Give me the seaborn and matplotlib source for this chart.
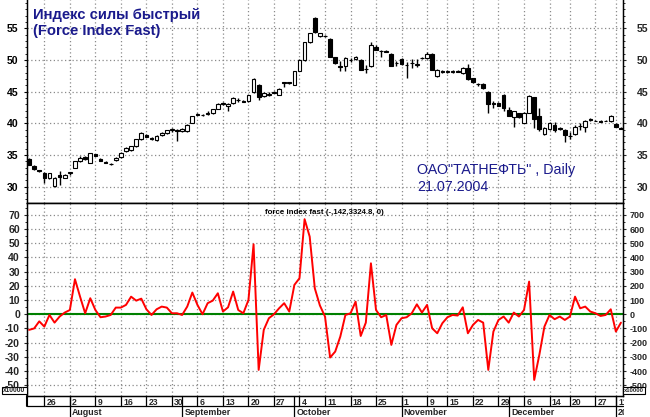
import matplotlib
matplotlib.use("Agg")
import matplotlib.pyplot as plt
import matplotlib.transforms as mtransforms
from matplotlib.patches import Rectangle
from matplotlib.ticker import MultipleLocator
import numpy as np
import pandas as pd
import seaborn as sns

# ---------------- data ----------------
opens = [34.3, 33.3, 32.6, 32.2, 31.4, 30.1, 31.8, 31.4, 32.1, 33.0,
         34.0, 34.7, 33.8, 35.1, 34.4, 33.85, 33.65, 34.2, 34.7, 35.6,
         35.8, 36.4, 37.5, 38.2, 37.7, 37.3, 38.1, 38.4, 38.95, 38.95,
         38.8, 38.8, 40.1, 41.45, 41.35, 41.55, 41.6, 42.3, 43.2, 42.7,
         43.2, 43.65, 43.55, 43.5, 44.9, 46.1, 44.3, 44.55, 44.95, 44.5,
         46.45, 46.35, 46.1, 48.3, 50.0, 52.8, 56.7, 53.8, 53.85, 53.3,
         50.4, 49.05, 49.0, 49.95, 50.1, 50.0, 48.65, 49.0, 52.0, 51.45,
         51.35, 51.0, 49.45, 50.2, 49.15, 49.45, 49.25, 50.35, 50.3, 51.0,
         47.4, 48.25, 48.15, 48.15, 48.25, 47.9, 48.8, 47.1, 46.25, 46.2,
         45.0, 43.15, 43.2, 44.5, 42.1, 41.0, 41.6, 40.1, 41.7, 44.1,
         41.2, 38.3, 39.1, 39.7, 39.25, 39.0, 37.95, 38.3, 39.55, 39.4,
         40.7, 40.45, 40.35, 40.45, 40.3, 39.9, 39.25]
highs = [34.6, 33.4, 32.7, 32.3, 32.2, 31.5, 32.5, 32.0, 32.4, 34.1,
         34.8, 34.9, 35.4, 35.2, 34.5, 34.0, 33.8, 34.7, 35.5, 36.2,
         36.5, 37.6, 38.6, 38.3, 37.8, 38.1, 38.6, 39.0, 39.3, 39.1,
         39.3, 39.9, 41.2, 41.6, 41.5, 41.9, 42.3, 43.2, 43.3, 43.2,
         44.1, 44.0, 43.7, 44.5, 47.1, 46.2, 44.9, 44.9, 45.1, 45.6,
         46.6, 46.5, 48.3, 50.1, 52.9, 54.3, 56.8, 54.3, 54.0, 53.4,
         50.5, 49.8, 50.4, 50.3, 50.6, 50.1, 49.2, 52.8, 52.3, 51.6,
         51.5, 51.1, 49.9, 50.3, 49.7, 50.1, 50.2, 50.5, 51.3, 51.1,
         48.6, 48.4, 48.5, 48.5, 48.4, 48.9, 49.3, 47.2, 46.4, 46.3,
         45.1, 43.6, 43.3, 44.6, 42.6, 42.0, 41.7, 41.8, 44.4, 44.2,
         42.5, 39.4, 40.2, 40.2, 39.5, 39.1, 38.7, 39.8, 40.0, 40.6,
         40.8, 40.6, 40.5, 40.6, 41.3, 40.0, 39.4]
lows = [33.4, 32.7, 32.4, 30.6, 31.2, 30.0, 30.2, 31.3, 31.9, 32.9,
        33.9, 34.2, 33.7, 34.8, 34.0, 33.7, 33.5, 34.1, 34.6, 35.5,
        35.7, 36.3, 37.4, 37.8, 37.4, 37.2, 38.0, 38.3, 38.7, 37.2,
        38.7, 38.7, 40.0, 41.3, 41.2, 41.3, 41.5, 42.2, 42.9, 41.9,
        43.1, 43.4, 43.4, 43.4, 44.8, 43.7, 44.2, 44.3, 44.8, 44.4,
        45.7, 46.2, 46.0, 48.2, 49.9, 52.7, 54.2, 53.7, 53.7, 50.4,
        49.4, 48.3, 48.2, 49.7, 50.0, 48.4, 48.0, 48.9, 51.5, 50.5,
        51.2, 49.0, 49.1, 49.2, 47.2, 48.8, 48.9, 50.1, 50.2, 48.4,
        47.3, 48.0, 47.9, 47.9, 48.1, 47.8, 46.9, 46.4, 45.9, 45.5,
        41.7, 42.4, 42.7, 41.9, 41.1, 39.5, 40.9, 40.0, 41.6, 39.3,
        38.8, 38.2, 39.0, 38.6, 38.9, 37.0, 37.6, 38.2, 38.9, 38.6,
        40.4, 40.3, 40.2, 40.3, 40.2, 39.4, 39.1]
closes = [33.5, 32.8, 32.5, 31.4, 32.1, 31.4, 31.6, 31.8, 32.3, 34.0,
          34.6, 34.3, 35.3, 34.9, 34.1, 33.8, 33.6, 34.6, 35.4, 36.1,
          36.4, 37.5, 38.5, 37.9, 37.5, 38.0, 38.5, 38.9, 39.05, 38.85,
          39.1, 39.8, 41.1, 41.35, 41.25, 41.65, 42.2, 43.1, 43.0, 43.1,
          44.0, 43.75, 43.45, 44.4, 47.0, 44.1, 44.8, 44.65, 44.85, 45.5,
          46.35, 46.45, 48.2, 50.0, 52.8, 54.2, 54.4, 54.2, 53.75, 50.5,
          49.5, 48.95, 50.3, 50.05, 50.5, 48.5, 48.55, 52.4, 51.6, 51.35,
          51.25, 49.1, 49.55, 49.3, 49.25, 49.55, 49.35, 50.25, 51.0, 48.5,
          48.5, 48.15, 48.25, 48.25, 48.15, 48.7, 47.0, 46.5, 46.15, 45.6,
          43.1, 43.05, 42.8, 42.5, 41.2, 41.9, 41.0, 41.7, 44.3, 40.7,
          39.1, 39.3, 40.1, 38.9, 39.15, 38.2, 38.05, 39.5, 39.65, 40.3,
          40.5, 40.35, 40.25, 40.35, 41.1, 39.5, 39.15]
force = [-11, -10, -5, -8.7, -0.5, -5.9, -1.6, 1.2, 3, 24.7,
         12.4, 0.7, 11.3, 3, -2.1, -1.6, -0.5, 4.7, 4.7, 6.6,
         12.4, 9.6, 11, 3.5, -0.5, 3.5, 5.4, 4.7, 0.7, 0.7,
         -0.5, 5.4, 15.3, 6.6, 0, 7.8, 9.6, 14.8, 1.9, 4.9,
         16, 3, 0.7, 10.1, 49.3, -39.2, -11, -2.8, 0, 4.2,
         7.8, 1.9, 20.7, 25.4, 67, 54.7, 18.3, 6.2, -1.6, -30.5,
         -26.3, -15.7, -0.5, 0.7, 8.9, -15.3, -5.9, 35.9, 3, -2.1,
         -0.5, -21.6, -7.5, -2.8, -2.1, 0.7, 7, 1.2, 6.6, -9.9,
         -13.4, -6.3, -2.1, -0.5, -0.9, 4.9, -13.4, -7.5, -4, -5.9,
         -39.2, -12.2, -4, -1.6, -5.9, 1.2, -1.6, 3, 23, -46.3,
         -28.7, -8.7, -0.5, -3.5, -1.6, -4, -1.6, 12.4, 4.2, 5.4,
         1.9, 0.7, -1.2, -0.5, 3.5, -12.2, -5.9]

week_pos = [3, 8, 13, 18, 23, 28, 33, 38, 43, 48, 53, 58, 63, 68, 73, 78,
            82, 87, 92, 97, 102, 106, 111, 115]
week_labels = ["26", "2", "9", "16", "23", "30", "6", "13", "20", "27", "4",
               "11", "18", "25", "1", "9", "15", "22", "29", "6", "14", "20",
               "27", "11"]
month_pos = [8, 30, 52, 73, 94, 115]
month_labels = ["August", "September", "October", "November", "December", "2005"]

price_ticks = [30, 35, 40, 45, 50, 55]
fi_ticks_left = [-50, -40, -30, -20, -10, 0, 10, 20, 30, 40, 50, 60, 70]
fi_ticks_right = [-500, -400, -300, -200, -100, 0, 100, 200, 300, 400, 500, 600, 700]

title1 = "Индекс силы быстрый"
title2 = "(Force Index Fast)"
info1 = "ОАО\"ТАТНЕФТЬ\" , Daily"
info2 = "21.07.2004"
fi_label = "force index fast (-,142,3324.8, 0)"

# ---------------- style ----------------
sns.set_style("white")
plt.rcParams["font.family"] = ["Liberation Sans", "DejaVu Sans"]
plt.rcParams["axes.unicode_minus"] = False

W, H = 650, 417
fig = plt.figure(figsize=(6.5, 4.17), dpi=100)
fig.patch.set_facecolor("white")


def px_rect(x0, y0, x1, y1):
    return [x0 / W, 1 - y1 / H, (x1 - x0) / W, (y1 - y0) / H]


ax1 = fig.add_axes(px_rect(27, 0, 623, 203))
ax2 = fig.add_axes(px_rect(27, 203, 623, 396))

df = pd.DataFrame({"o": opens, "h": highs, "l": lows, "c": closes, "fi": force})
df["i"] = np.arange(len(df))

XL = (-0.4, 116.4)
grid_kw = dict(color="#8a8a8a", linestyle=(0, (1, 2)), linewidth=0.9)

# ---------------- top panel: candles ----------------
up = df["c"] >= df["o"]
ax1.vlines(df["i"], df["l"], df["h"], color="black", linewidth=1.0, zorder=3)
body_bottom = np.minimum(df["o"], df["c"])
body_h = np.maximum((df["c"] - df["o"]).abs(), 0.06)
ax1.bar(df["i"], body_h, bottom=body_bottom, width=0.72,
        color=np.where(up, "white", "black"), edgecolor="black",
        linewidth=0.8, zorder=4)
ax1.set_xlim(*XL)
ax1.set_ylim(27.43, 59.47)
ax1.set_xticks(week_pos)
ax1.set_yticks(price_ticks)
ax1.grid(True, which="major", **grid_kw)
ax1.set_axisbelow(True)
ax1.tick_params(axis="x", length=0, labelbottom=False)
ax1.yaxis.set_minor_locator(MultipleLocator(1))
ax1.tick_params(axis="y", which="major", left=True, length=2.5, width=0.8,
                pad=3.5, direction="out", colors="black")
ax1.tick_params(axis="y", which="minor", left=True, length=1.5, width=0.7,
                direction="out")
for t in ax1.get_yticklabels():
    t.set_fontsize(7.6); t.set_fontweight("bold")
for s in ["left", "right", "bottom"]:
    ax1.spines[s].set_visible(True)
    ax1.spines[s].set_color("black")
    ax1.spines[s].set_linewidth(1.0)
ax1.spines["top"].set_visible(False)
ax1.set_xlabel(""); ax1.set_ylabel("")

ax1r = ax1.twinx()
ax1r.set_ylim(ax1.get_ylim())
ax1r.set_yticks(price_ticks)
ax1r.yaxis.set_minor_locator(MultipleLocator(1))
ax1r.tick_params(axis="y", which="major", right=True, length=2.5, width=0.8,
                 pad=7.5, direction="out")
ax1r.tick_params(axis="y", which="minor", right=True, length=1.5, width=0.7,
                 direction="out")
for t in ax1r.get_yticklabels():
    t.set_fontsize(7.6); t.set_fontweight("bold")
ax1r.spines["top"].set_visible(False)
for s in ["left", "right", "bottom"]:
    ax1r.spines[s].set_color("black")

# ---------------- bottom panel: force index ----------------
ax2.axhline(0, color="#008000", linewidth=1.5, zorder=2)
sns.lineplot(data=df, x="i", y="fi", ax=ax2, color="#ff0000", linewidth=1.4,
             zorder=3, legend=False)
ax2.set_xlim(*XL)
ax2.set_ylim(-57.6, 78.4)
ax2.set_xticks(week_pos)
ax2.set_yticks(fi_ticks_left)
ax2.grid(True, which="major", **grid_kw)
ax2.set_axisbelow(True)
ax2.tick_params(axis="x", length=0, labelbottom=False)
ax2.yaxis.set_minor_locator(MultipleLocator(5))
ax2.tick_params(axis="y", which="major", left=True, length=2.5, width=0.8,
                pad=2.5, direction="out")
ax2.tick_params(axis="y", which="minor", left=True, length=1.5, width=0.7,
                direction="out")
for t in ax2.get_yticklabels():
    t.set_fontsize(7.6); t.set_fontweight("bold")
for s in ax2.spines.values():
    s.set_visible(True); s.set_color("black"); s.set_linewidth(1.0)
ax2.set_xlabel(""); ax2.set_ylabel("")

ax2r = ax2.twinx()
ax2r.set_ylim(-576, 784)
ax2r.set_yticks(fi_ticks_right)
ax2r.yaxis.set_minor_locator(MultipleLocator(50))
ax2r.tick_params(axis="y", which="major", right=True, length=2.5, width=0.8,
                 pad=2.2, direction="out")
ax2r.tick_params(axis="y", which="minor", right=True, length=1.5, width=0.7,
                 direction="out")
for t in ax2r.get_yticklabels():
    t.set_fontsize(6.5); t.set_fontweight("bold")
for s in ax2r.spines.values():
    s.set_color("black")

# ---------------- date axis below ----------------
blend = mtransforms.blended_transform_factory(ax2.transData, ax2.transAxes)
ax_h_px = 396 - 203
clip_bb = mtransforms.TransformedBbox(
    mtransforms.Bbox([[0, 0], [623.5 / W, 1]]), fig.transFigure)

day_row = -9.5 / ax_h_px
month_row = -21 / ax_h_px
ax2.plot(list(XL), [day_row, day_row], color="black", linewidth=0.9,
         transform=blend, clip_on=False)
ax2.plot([XL[0], XL[0]], [0, day_row], color="black", linewidth=1.5,
         transform=blend, clip_on=False)
for p, lab in zip(week_pos, week_labels):
    ax2.plot([p, p], [0, day_row], color="black", linewidth=0.9,
             transform=blend, clip_on=False)
    tx = ax2.annotate(lab, xy=(p, 0), xycoords=blend, xytext=(1.6, -1.2),
                      textcoords="offset points", ha="left", va="top",
                      fontsize=6.2, fontweight="bold", annotation_clip=False)
    tx.set_clip_box(clip_bb); tx.set_clip_on(True)
for p, lab in zip(month_pos, month_labels):
    ax2.plot([p, p], [0, month_row], color="black", linewidth=0.9,
             transform=blend, clip_on=False)
    tx = ax2.annotate(lab, xy=(p, 0), xycoords=blend, xytext=(1.6, -8.6),
                      textcoords="offset points", ha="left", va="top",
                      fontsize=6.4, fontweight="bold", annotation_clip=False)
    tx.set_clip_box(clip_bb); tx.set_clip_on(True)

# ---------------- x10000 boxes ----------------
for (x0, x1, fs) in [(2, 27, 4.8), (623, 645, 4.2)]:
    r = Rectangle((x0 / W, 1 - 394 / H), (x1 - x0) / W, 7.5 / H,
                  transform=fig.transFigure, facecolor="white",
                  edgecolor="black", linewidth=0.8, zorder=5)
    fig.add_artist(r)
    fig.text((x0 + x1) / 2 / W, 1 - 390.5 / H, "x10000", ha="center",
             va="center", fontsize=fs, fontweight="bold", zorder=6)

# ---------------- texts ----------------
navy = "#1a1a8c"
fig.text(33 / W, 1 - 19 / H, title1, color=navy, fontsize=10.6,
         fontweight="bold", va="baseline", ha="left")
fig.text(33 / W, 1 - 35 / H, title2, color=navy, fontsize=10.6,
         fontweight="bold", va="baseline", ha="left")
fig.text(417 / W, 1 - 174 / H, info1, color=navy, fontsize=10.3,
         va="baseline", ha="left")
fig.text(417 / W, 1 - 191 / H, info2, color=navy, fontsize=10.3,
         va="baseline", ha="left")
fig.text(265 / W, 1 - 214 / H, fi_label, color="black", fontsize=5.7,
         fontweight="bold", va="baseline", ha="left")

fig.savefig("out.png", dpi=100, facecolor="white")
